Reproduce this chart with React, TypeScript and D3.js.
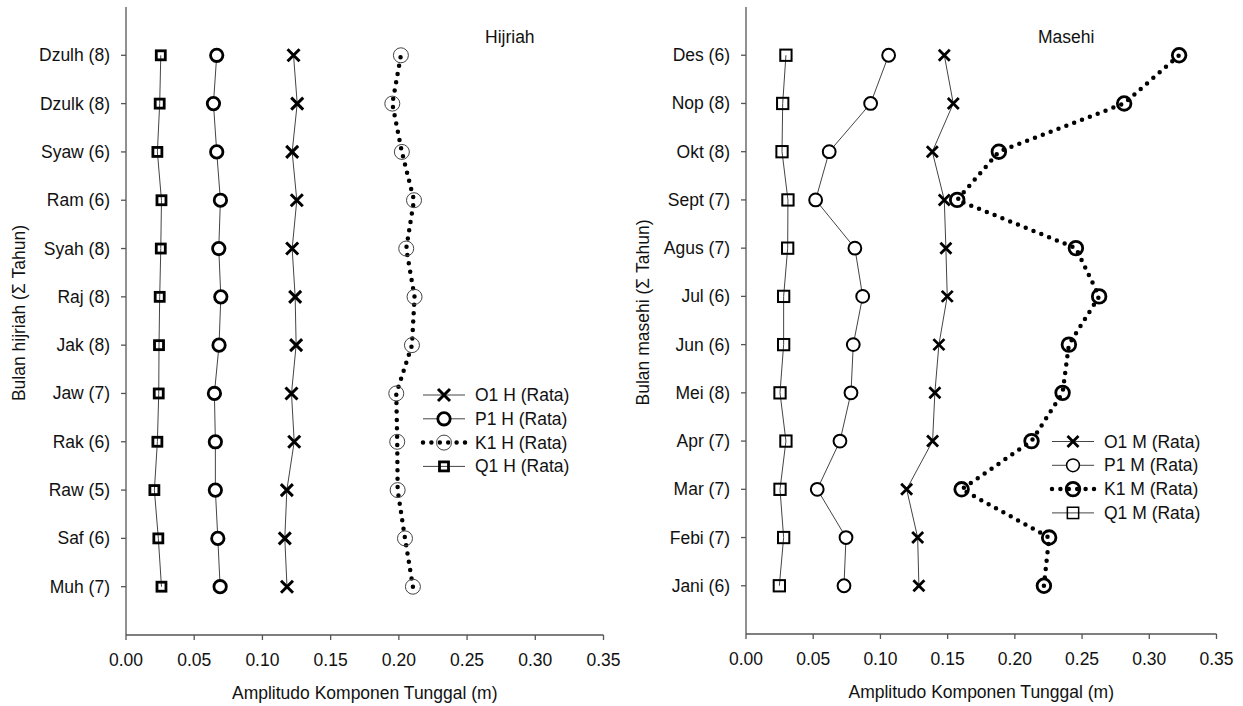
import React from "react";
import * as d3 from "d3";

const hijriahMonths = ["Muh (7)", "Saf (6)", "Raw (5)", "Rak (6)", "Jaw (7)", "Jak (8)", "Raj (8)", "Syah (8)", "Ram (6)", "Syaw (6)", "Dzulk (8)", "Dzulh (8)"];
const O1H = [0.118, 0.1164, 0.1179, 0.1233, 0.1213, 0.1247, 0.124, 0.1218, 0.1252, 0.1218, 0.1255, 0.1228];
const P1H = [0.069, 0.0673, 0.0655, 0.0655, 0.0648, 0.0682, 0.0695, 0.068, 0.0692, 0.0665, 0.0641, 0.0665];
const K1H = [0.2103, 0.2045, 0.1991, 0.1988, 0.1981, 0.2096, 0.2115, 0.2054, 0.2111, 0.2022, 0.1952, 0.2015];
const Q1H = [0.026, 0.0237, 0.0208, 0.023, 0.024, 0.0242, 0.0247, 0.0255, 0.026, 0.023, 0.0247, 0.0255];

const masehiMonths = ["Jani (6)", "Febi (7)", "Mar (7)", "Apr (7)", "Mei (8)", "Jun (6)", "Jul (6)", "Agus (7)", "Sept (7)", "Okt (8)", "Nop (8)", "Des (6)"];
const O1M = [0.1286, 0.1277, 0.1195, 0.1388, 0.1405, 0.1435, 0.1497, 0.1487, 0.1475, 0.1386, 0.1542, 0.1475];
const P1M = [0.0729, 0.0744, 0.053, 0.0699, 0.0781, 0.0798, 0.0868, 0.081, 0.0518, 0.0619, 0.0927, 0.1061];
const K1M = [0.2216, 0.2255, 0.1604, 0.2124, 0.2355, 0.2402, 0.2627, 0.2454, 0.1571, 0.1881, 0.2813, 0.3222];
const Q1M = [0.0248, 0.028, 0.0253, 0.0297, 0.0253, 0.028, 0.028, 0.031, 0.0312, 0.0268, 0.0273, 0.0297];

const xTicks = [0, 0.05, 0.1, 0.15, 0.2, 0.25, 0.3, 0.35];
const seriesNamesH = ["O1 H (Rata)", "P1 H (Rata)", "K1 H (Rata)", "Q1 H (Rata)"];
const seriesNamesM = ["O1 M (Rata)", "P1 M (Rata)", "K1 M (Rata)", "Q1 M (Rata)"];

const FONT = "'Liberation Sans', Arial, sans-serif";
const FS = 17.5;
const fmt = d3.format(".2f");

type MarkerStyle = {
  xHalf: number; xSw: number;
  pR: number; pSw: number;
  kR: number; kSw: number; kStroke: string;
  qSide: number; qSw: number;
  legPR: number; legPSw: number; legQSide: number; legQSw: number; legKR: number; legKSw: number;
};

function Marker({ kind, x, y, s, legend }: { kind: string; x: number; y: number; s: MarkerStyle; legend?: boolean }) {
  if (kind === "O1") {
    const h = s.xHalf;
    return (
      <path d={`M${x - h},${y - h}L${x + h},${y + h}M${x - h},${y + h}L${x + h},${y - h}`} stroke="#000" strokeWidth={s.xSw} fill="none" />
    );
  }
  if (kind === "P1") {
    return <circle cx={x} cy={y} r={legend ? s.legPR : s.pR} fill="#fff" stroke="#000" strokeWidth={legend ? s.legPSw : s.pSw} />;
  }
  if (kind === "K1") {
    return <circle cx={x} cy={y} r={legend ? s.legKR : s.kR} fill="none" stroke={s.kStroke} strokeWidth={legend ? s.legKSw : s.kSw} />;
  }
  const side = legend ? s.legQSide : s.qSide;
  return <rect x={x - side / 2} y={y - side / 2} width={side} height={side} fill="none" stroke="#000" strokeWidth={legend ? s.legQSw : s.qSw} />;
}

function Panel(props: {
  cats: string[]; series: number[][]; names: string[];
  x0: number; x1: number; yTop: number; yBot: number;
  title: string; titleX: number; yTitle: string; yTitleX: number;
  legX: number; legY: number; style: MarkerStyle;
}) {
  const { cats, series, names, x0, x1, yTop, yBot, title, titleX, yTitle, yTitleX, legX, legY, style } = props;
  const x = d3.scaleLinear().domain([0, 0.35]).range([x0, x1]);
  const y = d3.scaleLinear().domain([0, 13]).range([yBot, yTop]);
  const kinds = ["O1", "P1", "K1", "Q1"];
  const line = d3.line<number>().x((d) => x(d)).y((_, i) => y(i + 1));
  const dotted = { strokeWidth: 4.5, strokeDasharray: "0 8.4", strokeLinecap: "round" as const };
  return (
    <g fontFamily={FONT} fontSize={FS} fill="#111">
      <line x1={x0} y1={yTop} x2={x0} y2={yBot} stroke="#555" strokeWidth={1.3} />
      <line x1={x0} y1={yBot} x2={x1} y2={yBot} stroke="#555" strokeWidth={1.3} />
      {xTicks.map((t) => (
        <g key={t}>
          <line x1={x(t)} x2={x(t)} y1={yBot} y2={yBot + 5} stroke="#555" strokeWidth={1.3} />
          <text x={x(t)} y={yBot + 31} textAnchor="middle">{fmt(t)}</text>
        </g>
      ))}
      {cats.map((c, i) => (
        <g key={c}>
          <line x1={x0 - 5} x2={x0} y1={y(i + 1)} y2={y(i + 1)} stroke="#555" strokeWidth={1.3} />
          <text x={x0 - 16} y={y(i + 1) + 6} textAnchor="end">{c}</text>
        </g>
      ))}
      <text x={(x0 + x1) / 2} y={yBot + 64} textAnchor="middle">Amplitudo Komponen Tunggal (m)</text>
      <text transform={`translate(${yTitleX},${(yTop + yBot) / 2 - 8}) rotate(-90)`} textAnchor="middle">{yTitle}</text>
      <text x={titleX} y={43}>{title}</text>
      {series.map((vals, si) => (
        kinds[si] === "K1" ? (
          <path key={si} d={line(vals) || ""} fill="none" stroke="#000" {...dotted} />
        ) : (
          <path key={si} d={line(vals) || ""} fill="none" stroke="#444" strokeWidth={1} />
        )
      ))}
      {series.map((vals, si) => (
        <g key={si}>
          {vals.map((v, i) => (
            <Marker key={i} kind={kinds[si]} x={x(v)} y={y(i + 1)} s={style} />
          ))}
        </g>
      ))}
      {names.map((n, i) => {
        const ly = legY + i * 23.8;
        const k = kinds[i];
        return (
          <g key={n}>
            {k === "K1" ? (
              <line x1={legX} x2={legX + 42} y1={ly} y2={ly} stroke="#000" {...dotted} />
            ) : (
              <line x1={legX} x2={legX + 42} y1={ly} y2={ly} stroke="#444" strokeWidth={1} />
            )}
            <Marker kind={k} x={legX + 21} y={ly} s={style} legend />
            <text x={legX + 52} y={ly + 6}>{n}</text>
          </g>
        );
      })}
    </g>
  );
}

const leftStyle: MarkerStyle = {
  xHalf: 6, xSw: 3, pR: 6.2, pSw: 2.8, kR: 7.5, kSw: 1, kStroke: "#444",
  qSide: 9, qSw: 2.8, legPR: 6.2, legPSw: 2.8, legQSide: 9, legQSw: 2.8, legKR: 7.5, legKSw: 1,
};
const rightStyle: MarkerStyle = {
  xHalf: 5.5, xSw: 2.8, pR: 6.4, pSw: 2, kR: 6.8, kSw: 2.8, kStroke: "#000",
  qSide: 11.3, qSw: 2, legPR: 6.4, legPSw: 1.5, legQSide: 11.3, legQSw: 1.5, legKR: 6.8, legKSw: 2.8,
};

export default function App() {
  return (
    <svg width={1243} height={706} style={{ position: "absolute", left: 0, top: 0, background: "#fff" }}>
      <rect width={1243} height={706} fill="#fff" />
      <Panel
        cats={hijriahMonths}
        series={[O1H, P1H, K1H, Q1H]}
        names={seriesNamesH}
        x0={126} x1={603.5} yTop={7} yBot={635}
        title="Hijriah" titleX={485}
        yTitle="Bulan hijriah (Σ Tahun)" yTitleX={25}
        legX={423} legY={395}
        style={leftStyle}
      />
      <Panel
        cats={masehiMonths}
        series={[O1M, P1M, K1M, Q1M]}
        names={seriesNamesM}
        x0={746} x1={1216.5} yTop={7} yBot={634}
        title="Masehi" titleX={1038}
        yTitle="Bulan masehi (Σ Tahun)" yTitleX={649}
        legX={1052} legY={441.5}
        style={rightStyle}
      />
    </svg>
  );
}
